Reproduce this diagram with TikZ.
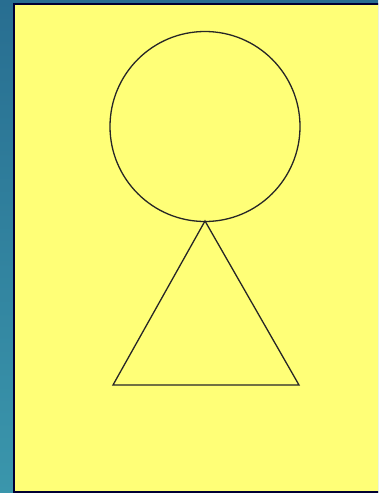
\documentclass[tikz,border=0pt]{standalone}
\begin{document}
\begin{tikzpicture}[x=1pt,y=-1pt,
  shape line/.style={draw=black!85, line width=1.3pt},
  paper/.style={fill={rgb,255:red,255;green,255;blue,119}, draw=black!80!blue, line width=1.6pt}]
\useasboundingbox (0,0) rectangle (378,493);
\clip (0,0) rectangle (378,493);
\shade[top color={rgb,255:red,40;green,110;blue,145}, bottom color={rgb,255:red,58;green,150;blue,172}] (0,0) rectangle (378,493);
\draw[paper] (14,4) rectangle (385,492);
\node[shape line, circle, minimum size=190pt, inner sep=0pt] (head) at (205,126.5) {};
\coordinate (apex) at (205,221);
\coordinate (bl) at (113,385);
\coordinate (br) at (299,385);
\draw[shape line, line join=miter] (apex) -- (bl) -- (br) -- cycle;
\end{tikzpicture}
\end{document}
